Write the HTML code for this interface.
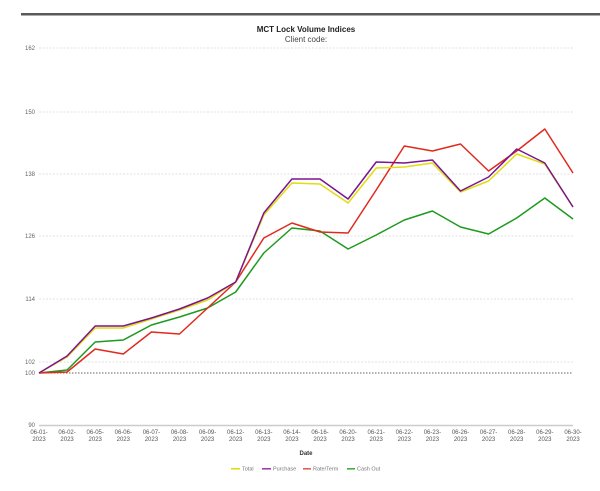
<!DOCTYPE html>
<html><head><meta charset="utf-8"><style>html,body{margin:0;padding:0;background:#fff;width:600px;height:491px;overflow:hidden}</style></head>
<body>
<svg width="600" height="491" viewBox="0 0 600 491" xmlns="http://www.w3.org/2000/svg" font-family="Liberation Sans, sans-serif">
<rect x="0" y="0" width="600" height="491" fill="#fff"/>
<rect x="21" y="13" width="579" height="2.5" fill="#5a5a5a"/>
<text x="306" y="32" text-anchor="middle" font-size="8" font-weight="bold" fill="#222">MCT Lock Volume Indices</text>
<text x="306" y="42" text-anchor="middle" font-size="8" fill="#444">Client code:</text>
<g stroke="#d8d8d8" stroke-width="0.8" stroke-dasharray="2,1.5">
<line x1="39" y1="48" x2="573" y2="48"/>
<line x1="39" y1="112" x2="573" y2="112"/>
<line x1="39" y1="174" x2="573" y2="174"/>
<line x1="39" y1="236" x2="573" y2="236"/>
<line x1="39" y1="299" x2="573" y2="299"/>
<line x1="39" y1="362" x2="573" y2="362"/>
</g>
<line x1="39" y1="373" x2="573" y2="373" stroke="#666" stroke-width="0.9" stroke-dasharray="1.5,1.5"/>
<line x1="39" y1="425.5" x2="573" y2="425.5" stroke="#ccc" stroke-width="1.5"/>
<g font-size="6" fill="#666" text-anchor="end">
<text x="35" y="50">162</text>
<text x="35" y="114">150</text>
<text x="35" y="176">138</text>
<text x="35" y="238">126</text>
<text x="35" y="301">114</text>
<text x="35" y="364">102</text>
<text x="35" y="375">100</text>
<text x="35" y="427">90</text>
</g>
<g font-size="6" fill="#555" text-anchor="middle">
<text x="39" y="434">06-01-</text><text x="39" y="441">2023</text>
<text x="67.1" y="434">06-02-</text><text x="67.1" y="441">2023</text>
<text x="95.2" y="434">06-05-</text><text x="95.2" y="441">2023</text>
<text x="123.3" y="434">06-06-</text><text x="123.3" y="441">2023</text>
<text x="151.4" y="434">06-07-</text><text x="151.4" y="441">2023</text>
<text x="179.5" y="434">06-08-</text><text x="179.5" y="441">2023</text>
<text x="207.6" y="434">06-09-</text><text x="207.6" y="441">2023</text>
<text x="235.7" y="434">06-12-</text><text x="235.7" y="441">2023</text>
<text x="263.8" y="434">06-13-</text><text x="263.8" y="441">2023</text>
<text x="291.9" y="434">06-14-</text><text x="291.9" y="441">2023</text>
<text x="320" y="434">06-16-</text><text x="320" y="441">2023</text>
<text x="348.1" y="434">06-20-</text><text x="348.1" y="441">2023</text>
<text x="376.2" y="434">06-21-</text><text x="376.2" y="441">2023</text>
<text x="404.3" y="434">06-22-</text><text x="404.3" y="441">2023</text>
<text x="432.4" y="434">06-23-</text><text x="432.4" y="441">2023</text>
<text x="460.5" y="434">06-26-</text><text x="460.5" y="441">2023</text>
<text x="488.6" y="434">06-27-</text><text x="488.6" y="441">2023</text>
<text x="516.7" y="434">06-28-</text><text x="516.7" y="441">2023</text>
<text x="544.8" y="434">06-29-</text><text x="544.8" y="441">2023</text>
<text x="573" y="434">06-30-</text><text x="573" y="441">2023</text>
</g>
<text x="306" y="455" text-anchor="middle" font-size="6" font-weight="bold" fill="#333">Date</text>
<g fill="none" stroke-width="1.5" stroke-linejoin="round">
<polyline stroke="#1e9a1e" points="39,373 67.1,370 95.2,342 123.3,340 151.4,325 179.5,317 207.6,308 235.7,292 263.8,253 291.9,228 320,231 348.1,249 376.2,235 404.3,220 432.4,211 460.5,227 488.6,234 516.7,218 544.8,198 573,219"/>
<polyline stroke="#e02a1e" points="39,373 67.1,372 95.2,349 123.3,354 151.4,332 179.5,334 207.6,308 235.7,282 263.8,238 291.9,223 320,232 348.1,233 376.2,190 404.3,146 432.4,151 460.5,144 488.6,171 516.7,151 544.8,129 573,173"/>
<polyline stroke="#dede10" points="39,373 67.1,357 95.2,328 123.3,328 151.4,319 179.5,310 207.6,300 235.7,282 263.8,215 291.9,183 320,184 348.1,203 376.2,168 404.3,167 432.4,163 460.5,192 488.6,181 516.7,154 544.8,164 573,207"/>
<polyline stroke="#7b1490" points="39,373 67.1,356 95.2,326 123.3,326 151.4,318 179.5,309 207.6,298 235.7,282 263.8,213 291.9,179 320,179 348.1,199 376.2,162 404.3,163 432.4,160 460.5,191 488.6,177 516.7,149 544.8,163 573,207"/>
</g>
<g font-size="5.5" fill="#777">
<rect x="231" y="468" width="9" height="1.6" fill="#dede10"/><text x="242" y="470.5">Total</text>
<rect x="262" y="468" width="9" height="1.6" fill="#a040b0"/><text x="273" y="470.5">Purchase</text>
<rect x="303" y="468" width="8" height="1.6" fill="#e06060"/><text x="313" y="470.5">Rate/Term</text>
<rect x="347" y="468" width="8" height="1.6" fill="#40b040"/><text x="357" y="470.5">Cash Out</text>
</g>
</svg>
</body></html>
